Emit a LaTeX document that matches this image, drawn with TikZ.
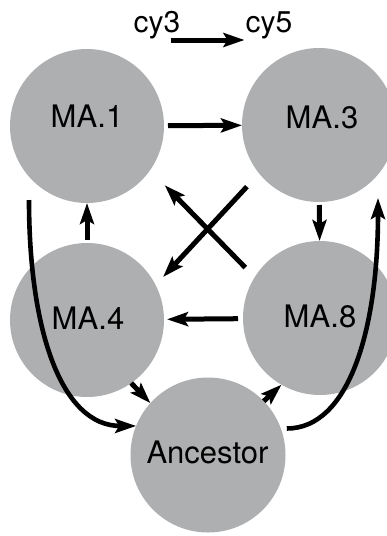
\documentclass[tikz,border=0pt]{standalone}
\usepackage{fontspec}
\setmainfont{TeX Gyre Heros}
\usetikzlibrary{arrows.meta,calc}
\definecolor{ballgray}{RGB}{174,175,177}
\tikzset{
  ball/.style={circle, fill=ballgray, draw=none, minimum size=154pt, inner sep=0pt, outer sep=0pt},
  lab/.style={anchor=base, inner sep=0pt, font=\fontsize{31}{31}\selectfont},
  toplab/.style={anchor=base, inner sep=0pt, font=\fontsize{30}{30}\selectfont},
  arr/.style={line width=5pt, -{Stealth[length=21pt,width=14pt,inset=4pt]}},
  carr/.style={line width=4.6pt, -{Stealth[length=21pt,width=14pt,inset=4pt]}}
}
\begin{document}
\begin{tikzpicture}[x=1pt,y=-1pt]
\useasboundingbox (0,0) rectangle (386,536);
% circles
\node[ball] (n1) at (87,126) {};
\node[ball] (n3) at (319,125) {};
\node[ball] (n4) at (87,320) {};
\node[ball] (n8) at (320,318) {};
\node[ball, minimum size=155pt] (anc) at (208,455) {};
% labels
\node[lab] (t1) at (87,127) {MA.1};
\node[lab] (t3) at (322,128) {MA.3};
\node[lab] (t4) at (88,329) {MA.4};
\node[lab] (t8) at (320,327) {MA.8};
\node[lab] (ta) at (207.5,463) {Ancestor};
\node[toplab] (cy3) at (157,32) {cy3};
\node[toplab] (cy5) at (269,32) {cy5};
% free ends of the long curves
\coordinate (c1) at (29,200);
\coordinate (c2) at (378,198);
% straight arrows
\draw[arr] ([xshift=-10pt,yshift=-8pt]cy3.base east) -- ([xshift=-1pt,yshift=-8pt]cy5.base west);
\draw[arr, shorten <=4pt] (n1) -- (n3);
\draw[arr, shorten <=3pt] (n4) -- (n1);
\draw[arr, shorten <=3pt] (n3) -- (n8);
\draw[arr, shorten <=5pt, shorten >=3pt] (n8) -- (n4);
\draw[arr] (n4.-55) -- (anc.138);
\draw[arr] (anc.44) -- (n8.240);
% cross
\draw[arr, shorten <=18pt, shorten >=11pt] (n3.219) -- (n4.27);
\draw[arr, shorten <=13.5pt, shorten >=21pt] (n8.148) -- (n1.-35);
% curves
\draw[carr] (c1) .. controls +(0,130) and +(-75,0) .. (anc.158);
\draw[carr, shorten <=6pt] (anc.20) .. controls +(68,0) and +(0,132) .. (c2);
\end{tikzpicture}
\end{document}
